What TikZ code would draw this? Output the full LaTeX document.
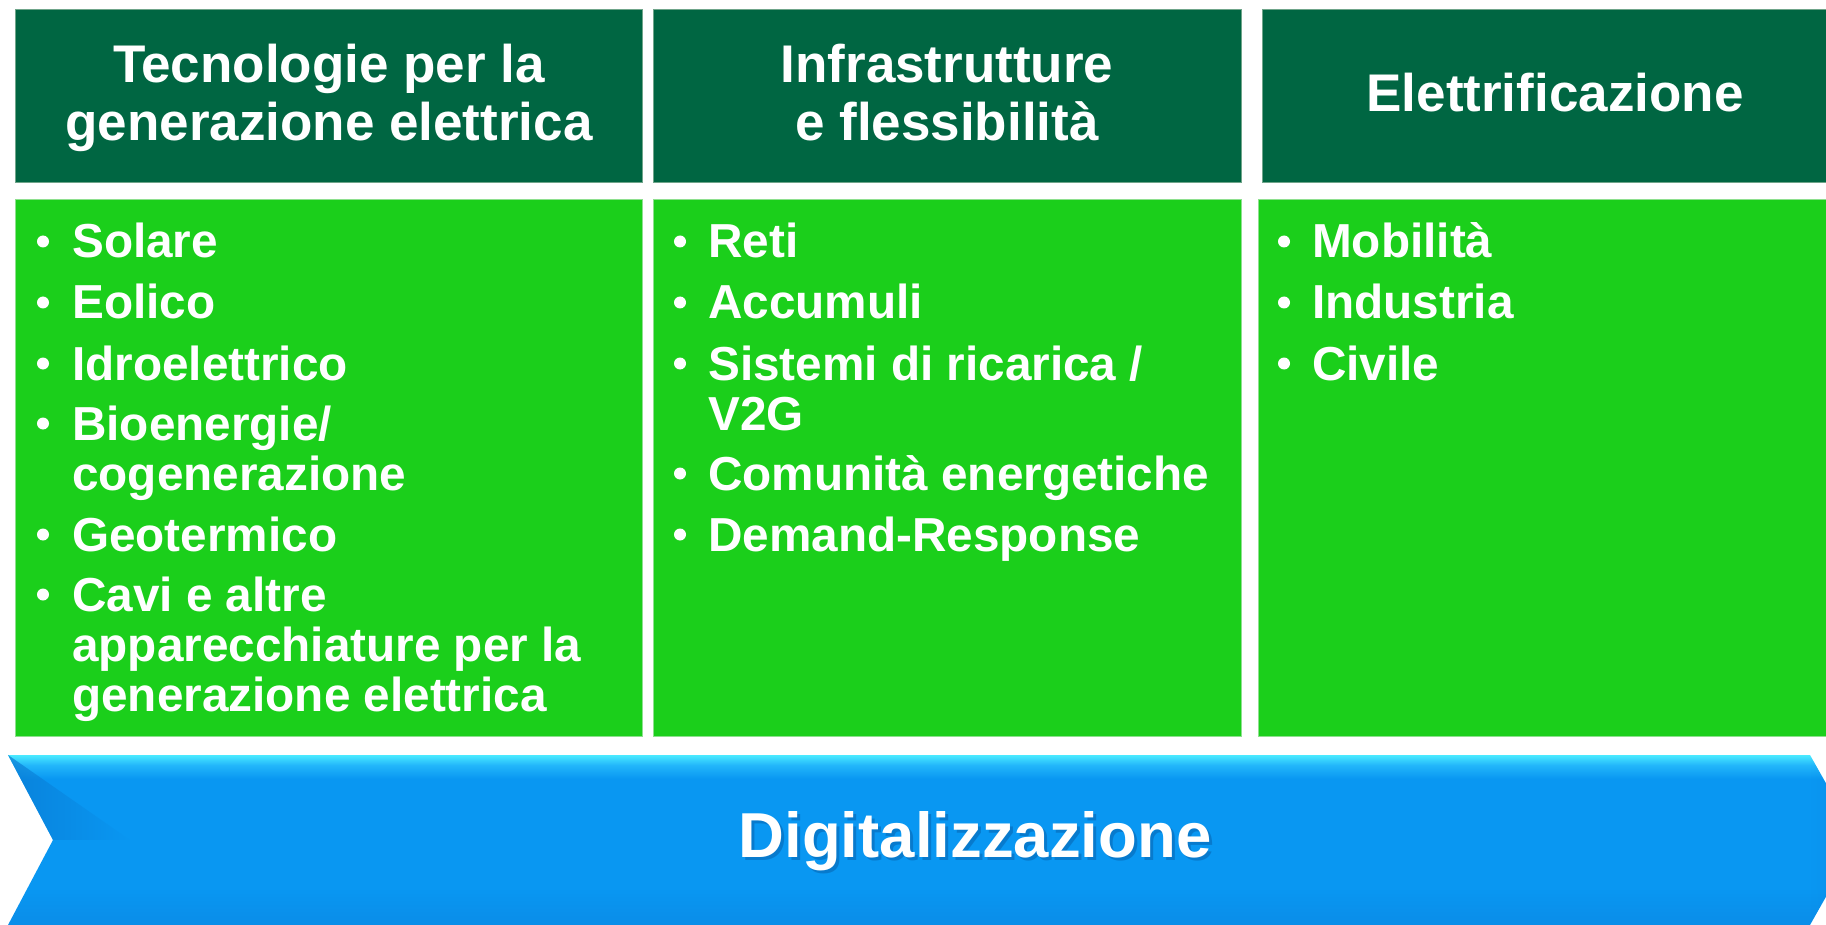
\documentclass[tikz,border=0pt]{standalone}
\usepackage{fontspec}
\setmainfont{Liberation Sans}
\usetikzlibrary{calc,fadings}

\definecolor{hdrgreen}{HTML}{006642}
\definecolor{hdredge}{HTML}{6FA58A}
\definecolor{bodygreen}{HTML}{1BCF1B}
\definecolor{bodyedge}{HTML}{8EE08E}
\definecolor{bnTop}{HTML}{4AEAFF}
\definecolor{bnLight}{HTML}{22B6FA}
\definecolor{bnMain}{HTML}{0997F2}
\definecolor{bnDark}{HTML}{0A8DE8}
\definecolor{bnFold}{HTML}{0A7AD2}
\definecolor{txtshadow}{HTML}{053A78}

% vertical fill of the banner: cyan highlight along the top edge
\pgfdeclareverticalshading{bannerfill}{100bp}{%
  color(0bp)=(bnDark); color(25bp)=(bnDark); color(36bp)=(bnMain);
  color(68bp)=(bnMain); color(72bp)=(bnLight); color(75bp)=(bnTop);
  color(100bp)=(bnTop)}

\newcommand\hdrsize{\fontsize{53}{58}\selectfont\bfseries}
\newcommand\itemsize{\fontsize{47.7}{50}\selectfont\bfseries}
\newcommand\bannersize{\fontsize{63.5}{70}\selectfont\bfseries}

\tikzset{
  hdrbox/.style={fill=hdrgreen, draw=hdredge, line width=0.8pt},
  bodybox/.style={fill=bodygreen, draw=bodyedge, line width=0.8pt},
  hdrtext/.style={anchor=base, inner sep=0pt, text=white, font=\hdrsize},
  itemtext/.style={anchor=base west, inner sep=0pt, text=white, font=\itemsize},
  bulletdot/.style={circle, fill=white, inner sep=0pt, minimum size=12pt},
}

\begin{document}
\begin{tikzpicture}[x=1pt, y=-1pt]
  \useasboundingbox (0,0) rectangle (1826,925);
  \clip (0,0) rectangle (1826,925);

  % header row
  \draw[hdrbox] (15,9) rectangle (642,182);
  \draw[hdrbox] (653,9) rectangle (1241,182);
  \draw[hdrbox] (1262,9) rectangle (1840,182);

  % content row
  \draw[bodybox] (15,199) rectangle (642,736);
  \draw[bodybox] (653,199) rectangle (1241,736);
  \draw[bodybox] (1258,199) rectangle (1840,736);

  % header titles
  \node[hdrtext] (h1a) at (329,83) {Tecnologie per la};
  \node[hdrtext] (h1b) at (329,141) {generazione elettrica};
  \node[hdrtext] (h2a) at (947,83) {Infrastrutture};
  \node[hdrtext] (h2b) at (947,141) {e flessibilità};
  \node[hdrtext] (h3) at (1555,112) {Elettrificazione};

  % first column
  \node[bulletdot] (b11) at (43,241.5) {};
  \node[itemtext] (t11) at (72,258) {Solare};
  \node[bulletdot] (b12) at (43,302.5) {};
  \node[itemtext] (t12) at (72,319) {Eolico};
  \node[bulletdot] (b13) at (43,363.5) {};
  \node[itemtext] (t13) at (72,380) {Idroelettrico};
  \node[bulletdot] (b14) at (43,423.5) {};
  \node[itemtext] (t14a) at (72,440) {Bioenergie/};
  \node[itemtext] (t14b) at (72,490) {cogenerazione};
  \node[bulletdot] (b15) at (43,534.5) {};
  \node[itemtext] (t15) at (72,551) {Geotermico};
  \node[bulletdot] (b16) at (43,594.5) {};
  \node[itemtext] (t16a) at (72,611) {Cavi e altre};
  \node[itemtext] (t16b) at (72,661) {apparecchiature per la};
  \node[itemtext] (t16c) at (72,711) {generazione elettrica};

  % second column
  \node[bulletdot] (b21) at (680,241.5) {};
  \node[itemtext] (t21) at (708,258) {Reti};
  \node[bulletdot] (b22) at (680,302.5) {};
  \node[itemtext] (t22) at (708,319) {Accumuli};
  \node[bulletdot] (b23) at (680,363.5) {};
  \node[itemtext] (t23a) at (708,380) {Sistemi di ricarica /};
  \node[itemtext] (t23b) at (708,430) {V2G};
  \node[bulletdot] (b24) at (680,473.5) {};
  \node[itemtext] (t24) at (708,490) {Comunità energetiche};
  \node[bulletdot] (b25) at (680,534.5) {};
  \node[itemtext] (t25) at (708,551) {Demand-Response};

  % third column
  \node[bulletdot] (b31) at (1284,241.5) {};
  \node[itemtext] (t31) at (1312,258) {Mobilità};
  \node[bulletdot] (b32) at (1284,302.5) {};
  \node[itemtext] (t32) at (1312,319) {Industria};
  \node[bulletdot] (b33) at (1284,363.5) {};
  \node[itemtext] (t33) at (1312,380) {Civile};

  % banner arrow with notched tail
  \coordinate (tl) at (8,755);
  \coordinate (notch) at (53,840);
  \coordinate (bl) at (8,925);
  \coordinate (tr) at (1810,755);
  \coordinate (tip) at (1858,840);
  \coordinate (br) at (1810,925);
  % soft shadow along the notch
  \fill[black, opacity=0.16] ($(tl)+(3,2)$) -- ($(notch)+(3,0)$) -- ($(bl)+(3,0)$) -- ($(bl)+(7,0)$) -- ($(notch)+(7,0)$) -- ($(tl)+(7,2)$) -- cycle;
  \path[shading=bannerfill] (tl) -- (tr) -- (tip) -- (br) -- (bl) -- (notch) -- cycle;
  % darker fold at the upper part of the tail, fading out to the right
  \fill[bnFold, opacity=0.7, path fading=east] (tl) -- (notch) -- (130,840) -- cycle;
  % slightly darker face of the head
  \fill[bnFold, opacity=0.25, path fading=west] (tr) -- (tip) -- (br) -- cycle;

  % banner title with a soft drop shadow
  \node[anchor=base, inner sep=0pt, text=txtshadow, opacity=0.3, font=\bannersize] (dsh) at (978,860) {Digitalizzazione};
  \node[anchor=base, inner sep=0pt, text=white, font=\bannersize] (dig) at (975,857) {Digitalizzazione};
\end{tikzpicture}
\end{document}
